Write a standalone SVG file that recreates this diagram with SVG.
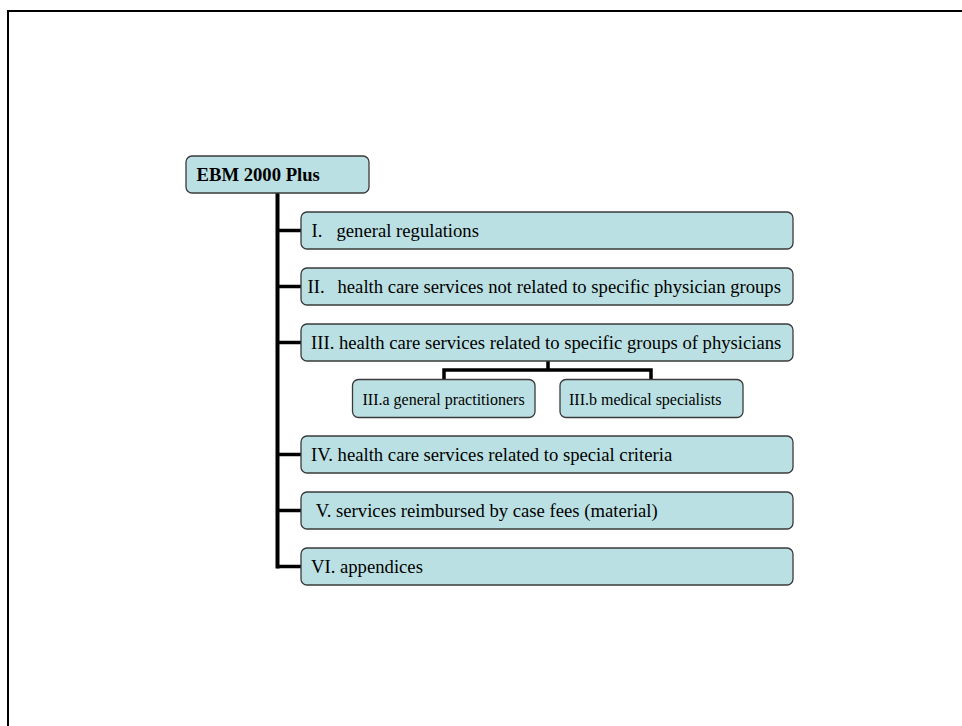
<svg xmlns="http://www.w3.org/2000/svg" width="962" height="726" viewBox="0 0 962 726">
<style>
.box{fill:#BBE0E3;stroke:#3a3a3a;stroke-width:1.3}
.t{font-family:"Liberation Serif","Times New Roman",serif;font-size:18.67px;fill:#000}
.s{font-family:"Liberation Serif","Times New Roman",serif;font-size:16px;fill:#000}
.b{font-weight:bold}
.c{fill:none;stroke:#000;stroke-width:3.5}
</style>
<rect x="0" y="0" width="962" height="726" fill="#fff"/>
<path d="M8,726 V11 H962" fill="none" stroke="#000" stroke-width="2"/>
<g id="connectors">
<path class="c" d="M277.5,193 V568.5" style="stroke-width:4"/>
<path class="c" d="M277.5,230.5 H301"/>
<path class="c" d="M277.5,286.5 H301"/>
<path class="c" d="M277.5,342.5 H301"/>
<path class="c" d="M277.5,454.5 H301"/>
<path class="c" d="M277.5,510.5 H301"/>
<path class="c" d="M277.5,566.5 H301"/>
<path class="c" d="M548,361 V370 M444,379.5 V370 H651 V379.5"/>
</g>
<g id="root">
<rect class="box" x="186" y="156" width="183" height="37" rx="6"/>
<text class="t b" x="196.5" y="180.8">EBM 2000 Plus</text>
</g>
<g id="n1">
<rect class="box" x="301" y="212" width="492" height="37" rx="6"/>
<text class="t" y="237"><tspan x="311.5">I.</tspan><tspan x="336.5">general regulations</tspan></text>
</g>
<g id="n2">
<rect class="box" x="301" y="268" width="492" height="37" rx="6"/>
<text class="t" y="293"><tspan x="307.5">II.</tspan><tspan x="337.5">health care services not related to specific physician groups</tspan></text>
</g>
<g id="n3">
<rect class="box" x="301" y="324" width="492" height="37" rx="6"/>
<text class="t" x="311" y="349">III. health care services related to specific groups of physicians</text>
</g>
<g id="n3a">
<rect class="box" x="352.5" y="379.5" width="182.5" height="38" rx="6"/>
<text class="s" x="362.5" y="404.5">III.a general practitioners</text>
</g>
<g id="n3b">
<rect class="box" x="560" y="379.5" width="183" height="38" rx="6"/>
<text class="s" x="569" y="404.5">III.b medical specialists</text>
</g>
<g id="n4">
<rect class="box" x="301" y="436" width="492" height="37" rx="6"/>
<text class="t" x="311" y="461">IV. health care services related to special criteria</text>
</g>
<g id="n5">
<rect class="box" x="301" y="492" width="492" height="37" rx="6"/>
<text class="t" x="315.7" y="517">V. services reimbursed by case fees (material)</text>
</g>
<g id="n6">
<rect class="box" x="301" y="548" width="492" height="37" rx="6"/>
<text class="t" x="311" y="573">VI. appendices</text>
</g>
</svg>
